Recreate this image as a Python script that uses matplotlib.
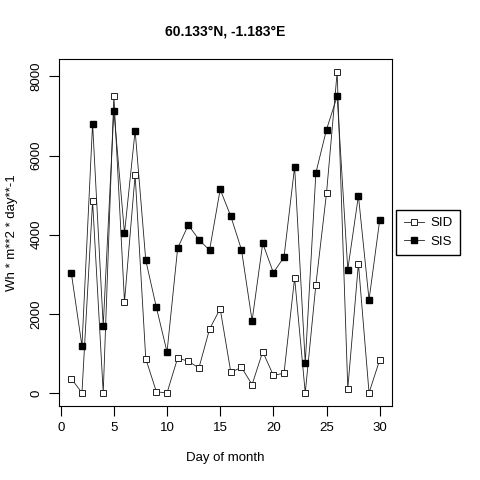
import matplotlib
matplotlib.use("Agg")
import matplotlib.pyplot as plt

plt.rcParams['font.family'] = ['Liberation Sans', 'DejaVu Sans']

days = list(range(1, 31))
sid = [361, 0, 4849, 0, 7514, 2302, 5513, 865, 25, 0,
       882, 798, 630, 1613, 2126, 520, 646, 209, 1041, 444,
       495, 2907, 0, 2739, 5050, 8109, 108, 3268, 0, 832]
sis = [3026, 1185, 6808, 1689, 7136, 4034, 6631, 3353, 2159, 1034,
       3656, 4244, 3874, 3606, 5144, 4463, 3621, 1823, 3782, 3041,
       3429, 5714, 756, 5563, 6657, 7496, 3117, 4983, 2353, 4362]
xticks = [0, 5, 10, 15, 20, 25, 30]
yticks = [0, 2000, 4000, 6000, 8000]

fig = plt.figure(figsize=(4.8, 4.8), dpi=100)
ax = fig.add_axes([0.1229, 0.1548, 0.6938, 0.7217])

l1, = ax.plot(days, sid, color='#222222', lw=0.6, marker='s', markersize=3.8,
              markerfacecolor='white', markeredgecolor='#222222', markeredgewidth=0.7)
l2, = ax.plot(days, sis, color='#222222', lw=0.6, marker='s', markersize=4.4,
              markerfacecolor='black', markeredgecolor='black')

# R style 4% padding
ax.margins(0.04)
ax.set_xticks(xticks)
ax.set_yticks(yticks)
ax.tick_params(length=7, width=0.8, labelsize=9.5, pad=5)
ax.tick_params(axis='y', labelrotation=90)
for t in ax.get_yticklabels():
    t.set_va('center')
for s in ax.spines.values():
    s.set_linewidth(0.8)

ax.set_title('60.133°N, -1.183°E', fontsize=10, fontweight='bold', pad=17)
ax.set_xlabel('Day of month', fontsize=9.5, labelpad=13)
ax.set_ylabel('Wh * m**2 * day**-1', fontsize=9.5, labelpad=9)

fig.legend([l1, l2], ['SID', 'SIS'], loc='center left',
           bbox_to_anchor=(0.826, 0.516), fontsize=9.5, frameon=True,
           fancybox=False, edgecolor='black', framealpha=1,
           handlelength=1.5, borderpad=0.55, labelspacing=0.45,
           borderaxespad=0, handletextpad=0.55)

fig.savefig('out.png', dpi=100)
